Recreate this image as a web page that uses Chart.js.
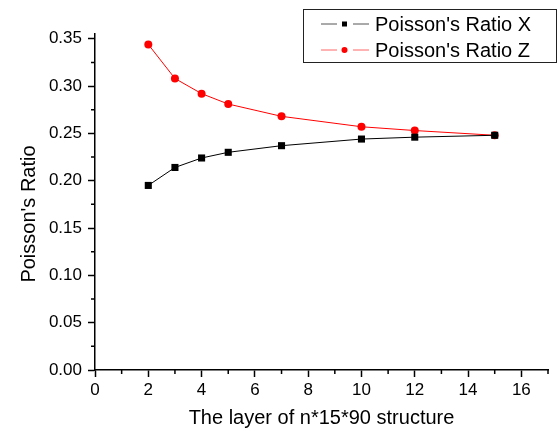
<!DOCTYPE html>
<html>
<head>
<meta charset="utf-8">
<script src="https://cdn.jsdelivr.net/npm/chart.js@4"></script>
<style>
  html, body { margin: 0; padding: 0; background: #fff; }
  #wrap { width: 558px; height: 435px; }
</style>
</head>
<body>
<div id="wrap"><canvas id="chart"></canvas></div>
<script>
// data
const layers = [2, 3, 4, 5, 7, 10, 12, 15];
const ratioX = [0.195, 0.214, 0.224, 0.230, 0.237, 0.244, 0.246, 0.248];
const ratioZ = [0.344, 0.308, 0.292, 0.281, 0.268, 0.257, 0.253, 0.248];
const seriesNames = ["Poisson's Ratio X", "Poisson's Ratio Z"];
const xTicks = [0, 2, 4, 6, 8, 10, 12, 14, 16];
const xMinor = [1, 3, 5, 7, 9, 11, 13, 15, 17];
const yTicks = [0, 0.05, 0.10, 0.15, 0.20, 0.25, 0.30, 0.35];
const yMinor = [0.025, 0.075, 0.125, 0.175, 0.225, 0.275, 0.325];
const xTitle = 'The layer of n*15*90 structure';
const yTitle = "Poisson's Ratio";

const FONT = '"Liberation Sans", Arial, sans-serif';
Chart.defaults.font.family = FONT;
Chart.defaults.color = '#000';

const toPoints = (ys) => layers.map((x, i) => ({ x, y: ys[i] }));

// minor ticks, axis titles and the boxed legend
const extras = {
  id: 'extras',
  afterDraw(chart) {
    const { ctx, chartArea: a, scales: { x, y } } = chart;
    ctx.save();
    ctx.strokeStyle = '#000';
    ctx.lineWidth = 1.5;
    ctx.beginPath();
    xMinor.forEach((v) => {
      const px = x.getPixelForValue(v);
      ctx.moveTo(px, a.bottom);
      ctx.lineTo(px, a.bottom + 4);
    });
    yMinor.forEach((v) => {
      const py = y.getPixelForValue(v);
      ctx.moveTo(a.left, py);
      ctx.lineTo(a.left - 4, py);
    });
    ctx.stroke();

    ctx.fillStyle = '#000';
    ctx.font = '20px ' + FONT;
    ctx.textAlign = 'center';
    ctx.textBaseline = 'middle';
    ctx.fillText(xTitle, (a.left + a.right) / 2, 418);
    ctx.translate(29, 214);
    ctx.rotate(-Math.PI / 2);
    ctx.fillText(yTitle, 0, 0);
    ctx.restore();

    // legend: line - marker - line, then the name
    ctx.save();
    ctx.strokeStyle = '#222';
    ctx.lineWidth = 1;
    ctx.strokeRect(303.5, 9.5, 253, 53);
    const rows = [24, 50];
    const legendLine = ['#555', '#ff6666'];
    chart.data.datasets.forEach((ds, i) => {
      const ry = rows[i];
      ctx.strokeStyle = legendLine[i];
      ctx.lineWidth = 1;
      ctx.beginPath();
      ctx.moveTo(321, ry);
      ctx.lineTo(337, ry);
      ctx.moveTo(353, ry);
      ctx.lineTo(369, ry);
      ctx.stroke();
      ctx.fillStyle = ds.pointBackgroundColor;
      if (ds.pointStyle === 'rect') {
        ctx.fillRect(342, ry - 2.5, 5, 5);
      } else {
        ctx.beginPath();
        ctx.arc(344.5, ry, 3, 0, Math.PI * 2);
        ctx.fill();
      }
      ctx.fillStyle = '#000';
      ctx.font = '20px ' + FONT;
      ctx.textAlign = 'left';
      ctx.textBaseline = 'middle';
      ctx.fillText(ds.label, 375, ry + 1);
    });
    ctx.restore();
  },
};

new Chart(document.getElementById('chart'), {
  type: 'line',
  data: {
    datasets: [
      {
        label: seriesNames[0],
        data: toPoints(ratioX),
        borderColor: '#000',
        backgroundColor: '#000',
        pointBackgroundColor: '#000',
        pointBorderColor: '#000',
        pointStyle: 'rect',
        pointRadius: 5,
        pointBorderWidth: 0,
        borderWidth: 1,
      },
      {
        label: seriesNames[1],
        data: toPoints(ratioZ),
        borderColor: '#ff0000',
        backgroundColor: '#ff0000',
        pointBackgroundColor: '#ff0000',
        pointBorderColor: '#ff0000',
        pointStyle: 'circle',
        pointRadius: 4,
        pointBorderWidth: 0,
        borderWidth: 1,
      },
    ],
  },
  options: {
    responsive: true,
    maintainAspectRatio: false,
    animation: false,
    layout: { padding: { left: 0, top: 34, right: 10, bottom: 0 } },
    scales: {
      x: {
        type: 'linear',
        min: 0,
        max: 17,
        afterBuildTicks: (s) => { s.ticks = xTicks.map((v) => ({ value: v })); },
        afterFit: (s) => { s.height = 65; },
        grid: { drawOnChartArea: false, tickLength: 7, tickWidth: 1.5, tickColor: '#000' },
        border: { color: '#000', width: 1.5 },
        ticks: { font: { size: 17 }, padding: 3, maxRotation: 0 },
      },
      y: {
        min: 0,
        max: 0.355,
        afterBuildTicks: (s) => { s.ticks = yTicks.map((v) => ({ value: v })); },
        afterFit: (s) => { s.width = 95; },
        grid: { drawOnChartArea: false, tickLength: 7, tickWidth: 1.5, tickColor: '#000' },
        border: { color: '#000', width: 1.5 },
        ticks: { font: { size: 17 }, padding: 6, callback: (v) => v.toFixed(2) },
      },
    },
    plugins: {
      legend: { display: false },
      tooltip: { enabled: false },
    },
  },
  plugins: [extras],
});
</script>
</body>
</html>
